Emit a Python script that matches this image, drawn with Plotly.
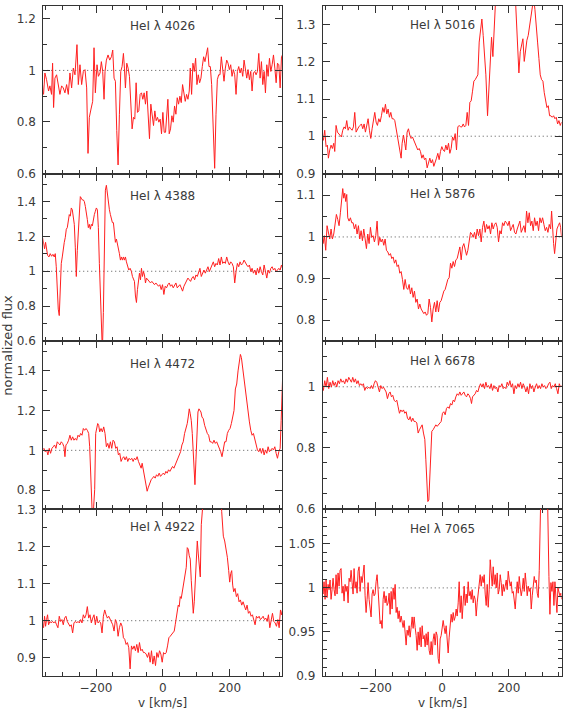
import plotly.graph_objects as go

W, H = 563, 717

# ---- data: velocity [km/s] and normalized flux ----
v_4026 = [-360, -357, -353, -348, -342, -338, -333, -330, -327, -323,
          -318, -313, -308, -303, -298, -293, -288, -283, -278, -273,
          -268, -263, -260, -257, -253, -248, -243, -238, -233, -228,
          -224, -220, -215, -210, -206, -202, -197, -193, -188, -184,
          -180, -176, -173, -169, -164, -159, -154, -150, -146, -142,
          -138, -134, -130, -126, -122, -118, -115, -112, -108, -104,
          -100, -96, -92, -88, -84, -80, -76, -72, -68, -64,
          -60, -56, -52, -48, -44, -40, -36, -32, -28, -24,
          -20, -16, -12, -8, -4, 0, 4, 8, 12, 15,
          19, 23, 27, 31, 35, 39, 43, 47, 51, 55,
          59, 63, 67, 71, 75, 79, 82, 86, 90, 94,
          98, 102, 106, 110, 114, 118, 122, 126, 130, 134,
          138, 142, 146, 150, 155, 159, 163, 167, 171, 175,
          179, 183, 187, 191, 195, 199, 203, 207, 211, 215,
          219, 223, 227, 231, 235, 239, 243, 247, 251, 255,
          259, 263, 267, 271, 275, 279, 283, 287, 291, 295,
          299, 303, 307, 311, 315, 319, 323, 327, 331, 335,
          339, 343, 347, 351, 355, 358]
f_4026 = [0.945, 0.907, 0.990, 0.964, 0.920, 0.940, 0.907, 1.028, 0.856, 0.970,
          0.983, 0.945, 0.907, 0.940, 0.932, 0.913, 0.945, 0.907, 0.990, 0.932,
          1.009, 0.983, 1.047, 1.100, 0.945, 1.022, 0.945, 0.996, 1.003, 0.932,
          0.678, 0.818, 0.850, 0.880, 1.088, 0.913, 1.022, 0.977, 0.990, 1.034,
          0.996, 0.888, 0.996, 1.040, 1.060, 1.040, 1.053, 1.079, 0.970, 0.958,
          0.767, 0.633, 0.830, 0.996, 1.015, 1.066, 1.009, 0.932, 1.028, 1.009,
          0.977, 0.869, 0.773, 0.818, 0.811, 0.952, 0.837, 0.843, 0.907, 0.913,
          0.888, 0.913, 0.869, 0.920, 0.830, 0.735, 0.869, 0.818, 0.786, 0.843,
          0.805, 0.818, 0.799, 0.811, 0.754, 0.837, 0.760, 0.760, 0.818, 0.888,
          0.754, 0.773, 0.824, 0.799, 0.862, 0.830, 0.894, 0.869, 0.900, 0.875,
          0.945, 0.907, 0.880, 0.907, 0.888, 0.920, 1.009, 0.907, 1.028, 0.996,
          1.047, 0.945, 0.983, 0.952, 0.970, 1.015, 1.053, 1.034, 1.060, 1.088,
          1.015, 1.015, 0.945, 0.805, 0.620, 0.830, 0.964, 0.983, 0.983, 1.053,
          0.996, 0.958, 1.009, 1.040, 1.028, 1.003, 1.022, 0.977, 1.003, 0.983,
          0.907, 0.996, 1.015, 0.990, 1.009, 0.977, 1.040, 0.996, 0.970, 1.003,
          0.964, 0.996, 0.920, 0.990, 0.996, 0.983, 0.996, 1.066, 0.970, 1.034,
          0.945, 0.996, 0.913, 1.022, 0.977, 1.047, 0.996, 1.022, 1.060, 1.009,
          0.952, 1.028, 1.022, 0.932, 1.053, 1.060]

v_5016 = [-360, -356, -352, -348, -344, -341, -337, -333, -329, -325,
          -322, -318, -314, -310, -306, -302, -298, -294, -290, -286,
          -282, -278, -274, -270, -266, -262, -258, -254, -250, -246,
          -242, -238, -234, -230, -226, -222, -218, -214, -210, -206,
          -202, -198, -194, -190, -186, -182, -178, -174, -170, -166,
          -162, -158, -154, -150, -146, -142, -138, -134, -130, -126,
          -123, -120, -116, -112, -109, -105, -101, -97, -93, -89,
          -85, -81, -77, -73, -69, -65, -61, -57, -53, -49,
          -45, -41, -37, -33, -29, -25, -21, -17, -13, -9,
          -5, -1, 3, 7, 11, 15, 19, 23, 27, 31,
          35, 39, 43, 47, 51, 55, 59, 63, 67, 71,
          75, 79, 83, 87, 91, 95, 99, 103, 107, 111,
          115, 119, 123, 127, 131, 136, 140, 144, 148, 152,
          156, 160, 170, 185, 205, 218, 222, 226, 230, 234,
          238, 242, 246, 250, 254, 258, 262, 266, 270, 274,
          278, 282, 286, 290, 294, 298, 302, 306, 310, 314,
          318, 322, 326, 330, 334, 338, 342, 346, 350, 354,
          358]
f_5016 = [1.003, 0.989, 1.016, 0.972, 0.976, 0.941, 0.963, 0.976, 0.967, 0.981,
          0.959, 1.029, 1.011, 1.007, 1.003, 0.998, 1.016, 1.025, 1.020, 1.042,
          1.016, 1.025, 1.020, 1.016, 1.025, 1.064, 1.011, 1.020, 1.025, 1.029,
          1.033, 1.020, 1.033, 1.011, 1.025, 1.047, 1.016, 0.994, 1.020, 1.047,
          1.064, 1.038, 1.029, 1.047, 1.038, 1.055, 1.077, 1.064, 1.086, 1.060,
          1.073, 1.051, 1.064, 1.047, 1.047, 1.042, 1.020, 0.998, 0.981, 0.963,
          0.941, 0.981, 1.003, 0.981, 0.963, 1.011, 1.020, 1.003, 0.994, 0.998,
          0.989, 0.981, 0.976, 0.963, 0.967, 0.959, 0.941, 0.950, 0.937, 0.941,
          0.915, 0.932, 0.941, 0.928, 0.937, 0.919, 0.928, 0.941, 0.954, 0.937,
          0.959, 0.972, 0.963, 0.959, 0.976, 0.963, 0.981, 0.954, 0.967, 0.998,
          0.989, 1.007, 0.963, 1.025, 1.029, 1.025, 1.025, 1.033, 1.025, 1.029,
          1.064, 1.029, 1.091, 1.095, 1.121, 1.148, 1.152, 1.161, 1.165, 1.253,
          1.280, 1.315, 1.271, 1.218, 1.165, 1.055, 1.130, 1.201, 1.266, 1.214,
          1.380, 1.450, 1.550, 1.600, 1.500, 1.400, 1.324, 1.236, 1.170, 1.227,
          1.245, 1.262, 1.201, 1.236, 1.258, 1.271, 1.297, 1.315, 1.350, 1.370,
          1.341, 1.306, 1.253, 1.209, 1.165, 1.152, 1.148, 1.117, 1.095, 1.077,
          1.082, 1.055, 1.055, 1.051, 1.055, 1.047, 1.051, 1.033, 1.042, 1.029,
          1.038]

v_4388 = [-360, -357, -354, -351, -348, -345, -341, -337, -333, -329,
          -325, -322, -319, -316, -313, -310, -307, -304, -301, -298,
          -295, -292, -289, -286, -283, -280, -277, -274, -271, -268,
          -265, -262, -259, -256, -253, -250, -247, -244, -241, -238,
          -235, -232, -229, -226, -223, -220, -217, -214, -211, -208,
          -205, -202, -199, -196, -193, -190, -187, -184, -181, -178,
          -175, -172, -169, -166, -163, -160, -157, -154, -151, -148,
          -145, -142, -139, -136, -133, -130, -127, -124, -121, -118,
          -115, -112, -109, -106, -102, -98, -94, -91, -88, -85,
          -82, -79, -76, -73, -70, -67, -64, -61, -58, -55,
          -52, -49, -45, -41, -37, -33, -29, -25, -21, -17,
          -13, -9, -5, -1, 3, 7, 11, 15, 19, 23,
          27, 31, 35, 39, 43, 47, 51, 55, 59, 63,
          67, 71, 75, 79, 83, 87, 91, 95, 99, 103,
          107, 111, 115, 119, 123, 127, 131, 135, 139, 143,
          147, 151, 155, 159, 163, 167, 171, 175, 179, 183,
          187, 191, 195, 199, 203, 207, 211, 215, 219, 223,
          227, 231, 235, 239, 243, 247, 251, 255, 259, 263,
          267, 271, 275, 279, 283, 287, 291, 295, 299, 303,
          307, 311, 315, 319, 323, 327, 331, 335, 339, 343,
          347, 351, 355, 358]
f_4388 = [1.194, 1.157, 1.129, 1.166, 1.138, 1.092, 1.082, 1.101, 1.086, 1.097,
          1.082, 1.101, 1.026, 0.877, 0.783, 0.746, 0.895, 1.045, 1.082, 1.148,
          1.166, 1.194, 1.241, 1.250, 1.297, 1.325, 1.316, 1.363, 1.353, 1.316,
          1.269, 1.138, 0.970, 1.120, 1.250, 1.363, 1.428, 1.419, 1.409, 1.409,
          1.400, 1.372, 1.316, 1.297, 1.250, 1.269, 1.241, 1.269, 1.260, 1.307,
          1.325, 1.344, 1.363, 1.353, 1.250, 1.045, 0.783, 0.596, 0.540, 0.764,
          1.288, 1.465, 1.493, 1.447, 1.381, 1.353, 1.325, 1.297, 1.279, 1.279,
          1.213, 1.166, 1.185, 1.148, 1.110, 1.101, 1.064, 1.082, 1.064, 1.082,
          1.064, 1.082, 1.054, 1.026, 1.007, 1.017, 0.998, 0.970, 0.951, 0.942,
          0.858, 0.821, 0.895, 0.942, 0.989, 0.951, 1.017, 0.970, 0.998, 0.979,
          0.933, 0.961, 0.951, 0.942, 0.933, 0.942, 0.933, 0.923, 0.933, 0.923,
          0.914, 0.923, 0.895, 0.923, 0.867, 0.914, 0.905, 0.923, 0.933, 0.914,
          0.923, 0.905, 0.923, 0.933, 0.905, 0.914, 0.923, 0.905, 0.886, 0.914,
          0.933, 0.951, 0.961, 0.951, 0.942, 0.961, 0.970, 0.951, 0.979, 0.970,
          0.989, 1.017, 0.970, 0.989, 1.007, 0.989, 1.007, 1.026, 0.998, 1.017,
          1.026, 1.054, 1.026, 1.045, 1.036, 1.073, 1.036, 1.082, 1.045, 1.054,
          1.045, 1.082, 1.054, 1.036, 1.054, 1.045, 1.026, 0.933, 0.998, 1.045,
          1.026, 1.054, 1.036, 1.045, 1.064, 1.045, 1.036, 1.026, 1.036, 0.998,
          1.017, 0.989, 1.007, 0.979, 1.017, 0.989, 1.026, 0.998, 0.979, 1.036,
          0.989, 0.961, 1.007, 0.989, 1.017, 1.026, 1.007, 1.017, 0.998, 1.007,
          1.017, 1.007, 1.036, 1.017]

v_5876 = [-360, -357, -353, -349, -345, -341, -337, -333, -329, -325,
          -321, -317, -313, -309, -305, -301, -298, -295, -292, -289,
          -286, -283, -279, -275, -271, -267, -263, -259, -255, -251,
          -247, -243, -239, -235, -231, -227, -223, -219, -215, -211,
          -207, -203, -199, -195, -191, -187, -183, -179, -175, -171,
          -167, -163, -159, -155, -151, -147, -143, -139, -135, -131,
          -127, -123, -119, -115, -111, -107, -103, -99, -95, -91,
          -87, -83, -79, -75, -71, -67, -63, -59, -55, -51,
          -47, -43, -39, -35, -31, -27, -23, -19, -15, -11,
          -7, -3, 1, 5, 9, 13, 17, 21, 25, 29,
          33, 37, 41, 45, 49, 53, 57, 61, 65, 69,
          73, 77, 81, 85, 89, 93, 97, 101, 105, 109,
          113, 117, 121, 125, 129, 133, 137, 141, 145, 149,
          153, 157, 161, 165, 169, 173, 177, 181, 185, 189,
          193, 197, 201, 205, 209, 213, 217, 221, 225, 229,
          233, 237, 241, 245, 249, 253, 257, 261, 265, 269,
          273, 277, 281, 285, 289, 293, 297, 301, 305, 309,
          313, 317, 321, 325, 328, 331, 334, 337, 340, 344,
          348, 352, 355, 358]
f_5876 = [1.019, 0.984, 1.003, 0.968, 1.027, 1.007, 0.995, 1.019, 0.995, 1.007,
          1.034, 1.054, 1.042, 1.027, 1.058, 1.085, 1.116, 1.093, 1.105, 1.085,
          1.102, 1.046, 1.038, 1.046, 1.034, 1.034, 1.019, 1.030, 1.007, 1.027,
          0.995, 1.015, 0.991, 1.019, 0.995, 0.972, 1.007, 0.984, 1.023, 0.999,
          1.003, 0.988, 1.003, 1.038, 0.980, 0.999, 0.988, 0.995, 0.980, 0.995,
          0.968, 0.964, 0.956, 0.960, 0.948, 0.952, 0.937, 0.945, 0.929, 0.933,
          0.913, 0.917, 0.898, 0.874, 0.898, 0.878, 0.874, 0.886, 0.863, 0.878,
          0.855, 0.870, 0.843, 0.851, 0.827, 0.839, 0.827, 0.820, 0.816, 0.820,
          0.812, 0.816, 0.851, 0.831, 0.796, 0.827, 0.843, 0.820, 0.847, 0.820,
          0.843, 0.847, 0.859, 0.870, 0.874, 0.886, 0.898, 0.902, 0.937, 0.925,
          0.941, 0.929, 0.945, 0.948, 0.964, 0.976, 0.945, 0.976, 0.984, 0.972,
          0.956, 0.968, 0.991, 1.011, 1.007, 0.999, 1.011, 0.995, 1.019, 1.003,
          1.019, 0.988, 1.023, 1.038, 1.011, 1.030, 1.019, 1.027, 1.007, 1.034,
          1.019, 1.030, 1.034, 1.023, 0.988, 1.015, 1.007, 1.034, 1.027, 1.038,
          1.034, 1.027, 1.038, 1.015, 1.023, 1.030, 1.011, 1.007, 1.019, 1.027,
          1.038, 1.011, 1.019, 1.027, 1.011, 1.062, 1.034, 1.058, 1.027, 1.038,
          1.015, 1.046, 1.027, 1.038, 1.015, 1.046, 1.034, 1.046, 1.030, 1.015,
          1.023, 1.011, 1.030, 1.019, 1.062, 1.011, 0.984, 0.960, 0.991, 1.019,
          1.027, 1.034, 1.023, 0.999]

v_4472 = [-360, -356, -352, -348, -344, -340, -336, -332, -328, -324,
          -320, -316, -312, -308, -304, -300, -296, -293, -290, -286,
          -282, -278, -274, -270, -266, -262, -258, -254, -250, -246,
          -242, -238, -234, -230, -226, -222, -219, -216, -213, -210,
          -207, -204, -201, -198, -195, -192, -189, -185, -181, -177,
          -173, -169, -165, -161, -157, -153, -149, -145, -141, -137,
          -133, -129, -125, -121, -117, -113, -109, -105, -101, -97,
          -93, -89, -85, -81, -77, -73, -69, -65, -62, -59,
          -56, -53, -50, -47, -44, -41, -38, -35, -31, -27,
          -23, -19, -15, -11, -7, -3, 1, 5, 9, 13,
          17, 21, 25, 29, 33, 37, 41, 45, 49, 53,
          57, 61, 65, 69, 73, 76, 79, 82, 85, 88,
          91, 94, 96, 99, 102, 105, 108, 111, 114, 117,
          121, 125, 129, 133, 137, 141, 145, 149, 153, 157,
          161, 165, 169, 173, 177, 181, 185, 189, 193, 197,
          201, 205, 209, 213, 217, 221, 225, 229, 232, 235,
          239, 243, 247, 251, 255, 259, 263, 267, 271, 275,
          279, 283, 287, 291, 295, 299, 303, 307, 311, 315,
          319, 323, 327, 331, 335, 339, 343, 347, 351, 354,
          356, 358]
f_4472 = [1.002, 1.010, 0.993, 1.002, 0.977, 1.010, 0.985, 1.010, 1.018, 1.027,
          1.010, 1.043, 1.035, 1.027, 1.043, 1.035, 1.018, 0.968, 1.027, 1.035,
          1.051, 1.076, 1.051, 1.068, 1.051, 1.060, 1.051, 1.076, 1.068, 1.085,
          1.076, 1.110, 1.101, 1.110, 1.101, 1.085, 1.018, 0.836, 0.653, 0.620,
          0.719, 0.802, 1.085, 1.110, 1.135, 1.126, 1.093, 1.110, 1.093, 1.118,
          1.085, 1.018, 1.035, 1.010, 1.043, 1.010, 1.051, 1.043, 1.010, 1.018,
          0.977, 0.985, 0.944, 0.960, 0.968, 0.952, 0.968, 0.944, 0.960, 0.952,
          0.960, 0.944, 0.960, 0.952, 0.968, 0.944, 0.927, 0.910, 0.935, 0.902,
          0.877, 0.844, 0.811, 0.794, 0.811, 0.827, 0.836, 0.852, 0.860, 0.869,
          0.860, 0.877, 0.869, 0.885, 0.869, 0.877, 0.885, 0.877, 0.894, 0.885,
          0.902, 0.894, 0.910, 0.919, 0.910, 0.927, 0.944, 0.952, 0.977, 0.993,
          1.027, 1.043, 1.085, 1.110, 1.135, 1.168, 1.209, 1.184, 1.151, 1.085,
          1.002, 0.885, 0.827, 0.952, 1.118, 1.193, 1.209, 1.201, 1.193, 1.168,
          1.159, 1.126, 1.101, 1.085, 1.076, 1.043, 1.043, 1.035, 1.051, 1.035,
          1.043, 1.027, 1.010, 0.993, 0.968, 1.010, 1.043, 1.043, 1.085, 1.101,
          1.110, 1.135, 1.168, 1.201, 1.309, 1.334, 1.400, 1.458, 1.483, 1.467,
          1.409, 1.342, 1.284, 1.243, 1.176, 1.143, 1.101, 1.076, 1.085, 1.051,
          1.027, 1.002, 0.993, 1.010, 0.985, 1.010, 0.977, 1.002, 0.985, 1.018,
          0.993, 1.002, 1.010, 1.002, 1.018, 0.985, 0.960, 0.993, 1.010, 1.151,
          1.251, 1.350]

v_6678 = [-360, -356, -352, -348, -344, -340, -336, -332, -328, -324,
          -320, -316, -312, -308, -304, -300, -296, -292, -288, -284,
          -280, -276, -272, -268, -264, -260, -256, -252, -248, -244,
          -240, -236, -232, -228, -224, -220, -216, -212, -208, -204,
          -200, -196, -192, -188, -184, -180, -176, -172, -168, -164,
          -160, -156, -152, -148, -144, -140, -136, -132, -128, -124,
          -120, -116, -112, -108, -104, -100, -96, -92, -88, -84,
          -80, -76, -72, -68, -64, -60, -56, -52, -49, -46,
          -43, -40, -37, -34, -31, -27, -23, -19, -15, -11,
          -7, -3, 1, 5, 9, 13, 17, 21, 25, 29,
          33, 37, 41, 45, 49, 53, 57, 61, 65, 69,
          73, 77, 81, 85, 88, 91, 95, 99, 103, 107,
          111, 115, 119, 123, 127, 131, 135, 139, 143, 147,
          151, 155, 159, 163, 167, 171, 175, 179, 183, 187,
          191, 195, 199, 203, 207, 211, 215, 219, 223, 227,
          231, 235, 239, 243, 247, 251, 255, 259, 263, 267,
          271, 275, 279, 283, 287, 291, 295, 299, 303, 307,
          311, 315, 319, 323, 327, 331, 335, 339, 343, 347,
          351, 355, 358]
f_6678 = [1.010, 0.988, 1.020, 0.999, 1.031, 0.994, 1.015, 0.999, 1.020, 1.004,
          1.015, 0.999, 1.020, 1.010, 1.026, 1.015, 1.020, 1.010, 1.026, 1.015,
          1.031, 1.020, 1.015, 1.031, 1.015, 1.026, 1.010, 1.020, 1.004, 1.010,
          1.004, 1.010, 0.988, 0.999, 0.994, 0.999, 0.994, 1.004, 0.994, 1.010,
          1.020, 1.015, 0.999, 0.983, 1.004, 0.994, 0.999, 0.988, 0.983, 0.961,
          0.977, 0.983, 0.967, 0.972, 0.956, 0.951, 0.956, 0.934, 0.913, 0.924,
          0.918, 0.924, 0.913, 0.918, 0.897, 0.891, 0.902, 0.886, 0.897, 0.886,
          0.886, 0.881, 0.848, 0.859, 0.870, 0.875, 0.848, 0.827, 0.762, 0.687,
          0.623, 0.628, 0.709, 0.827, 0.854, 0.859, 0.865, 0.875, 0.870, 0.875,
          0.881, 0.886, 0.913, 0.918, 0.908, 0.929, 0.934, 0.929, 0.945, 0.940,
          0.956, 0.951, 0.967, 0.977, 0.972, 0.983, 0.972, 0.977, 0.983, 0.972,
          0.967, 0.977, 0.972, 0.961, 0.945, 0.967, 0.972, 0.977, 0.988, 0.983,
          0.999, 1.010, 0.999, 1.010, 0.994, 1.015, 0.999, 1.004, 0.994, 1.010,
          0.988, 1.004, 0.994, 0.999, 0.983, 1.004, 0.999, 1.010, 0.994, 0.999,
          0.994, 1.015, 1.004, 1.020, 0.999, 1.010, 0.977, 1.004, 0.994, 1.010,
          0.999, 1.015, 0.994, 1.010, 0.999, 0.983, 0.999, 0.977, 1.010, 0.994,
          1.004, 0.983, 0.999, 1.010, 0.994, 1.004, 0.994, 1.010, 0.999, 1.004,
          0.994, 0.999, 1.010, 1.015, 0.994, 1.004, 0.999, 1.010, 0.994, 0.977,
          1.010, 0.999, 1.004]

v_4922 = [-360, -357, -354, -351, -348, -345, -342, -338, -334, -330,
          -326, -322, -318, -314, -310, -306, -302, -298, -294, -290,
          -286, -282, -278, -274, -270, -266, -262, -258, -254, -250,
          -246, -242, -238, -234, -230, -226, -222, -218, -214, -210,
          -206, -202, -198, -194, -190, -186, -182, -178, -174, -170,
          -166, -162, -158, -154, -150, -146, -142, -138, -134, -130,
          -126, -122, -118, -114, -110, -106, -102, -98, -94, -90,
          -86, -82, -78, -74, -70, -66, -62, -58, -54, -50,
          -46, -42, -38, -34, -30, -26, -22, -18, -14, -10,
          -6, -2, 2, 6, 10, 14, 18, 22, 26, 30,
          34, 37, 40, 43, 46, 49, 52, 55, 58, 61,
          64, 67, 70, 73, 76, 79, 82, 85, 88, 91,
          94, 97, 100, 103, 106, 109, 112, 115, 118, 122,
          130, 140, 155, 170, 176, 178, 181, 185, 189, 193,
          197, 200, 203, 206, 209, 212, 216, 220, 224, 228,
          232, 236, 240, 244, 248, 252, 256, 260, 264, 268,
          272, 276, 280, 284, 288, 292, 296, 300, 304, 308,
          312, 316, 320, 324, 328, 332, 336, 340, 344, 348,
          352, 355, 358]
f_4922 = [0.998, 0.981, 1.012, 0.985, 1.003, 1.016, 0.989, 0.998, 0.994, 0.998,
          0.994, 0.998, 0.989, 0.981, 1.012, 0.998, 1.003, 0.989, 1.007, 1.012,
          0.998, 0.989, 0.985, 0.989, 0.967, 0.994, 0.998, 0.994, 0.998, 0.994,
          1.003, 0.994, 1.016, 1.007, 1.016, 1.038, 1.007, 1.016, 0.994, 1.007,
          1.016, 0.989, 1.012, 0.994, 0.998, 0.994, 0.967, 1.012, 1.029, 1.016,
          1.007, 1.012, 1.003, 0.998, 0.989, 0.972, 1.003, 0.994, 0.958, 0.981,
          0.994, 0.985, 0.954, 0.950, 0.936, 0.941, 0.927, 0.870, 0.932, 0.923,
          0.932, 0.919, 0.936, 0.914, 0.941, 0.919, 0.923, 0.914, 0.914, 0.910,
          0.901, 0.914, 0.888, 0.919, 0.883, 0.905, 0.879, 0.914, 0.901, 0.919,
          0.910, 0.888, 0.914, 0.910, 0.914, 0.932, 0.954, 0.958, 0.963, 0.967,
          0.972, 0.989, 1.012, 1.029, 1.042, 1.038, 1.065, 1.060, 1.078, 1.087,
          1.104, 1.135, 1.144, 1.197, 1.193, 1.175, 1.166, 1.109, 1.056, 1.020,
          1.051, 1.109, 1.171, 1.215, 1.180, 1.140, 1.118, 1.259, 1.312, 1.350,
          1.450, 1.550, 1.600, 1.450, 1.295, 1.268, 1.228, 1.215, 1.197, 1.171,
          1.135, 1.104, 1.127, 1.135, 1.096, 1.078, 1.087, 1.065, 1.073, 1.051,
          1.056, 1.042, 1.051, 1.038, 1.029, 1.042, 1.020, 1.025, 1.012, 1.016,
          1.003, 0.989, 1.012, 1.007, 1.012, 1.003, 1.007, 1.012, 1.003, 1.007,
          0.998, 1.016, 0.981, 1.007, 1.020, 0.998, 0.994, 0.985, 1.003, 0.981,
          1.029, 1.016, 1.029]

v_7065 = [-360, -357, -354, -351, -348, -345, -342, -339, -336, -333,
          -330, -327, -324, -321, -318, -315, -312, -309, -306, -303,
          -300, -297, -294, -291, -288, -285, -282, -279, -276, -273,
          -270, -267, -264, -261, -258, -255, -252, -249, -246, -243,
          -240, -237, -234, -231, -228, -225, -222, -219, -216, -213,
          -210, -207, -204, -201, -198, -195, -192, -189, -186, -183,
          -180, -177, -174, -171, -168, -165, -162, -159, -156, -153,
          -150, -147, -144, -141, -138, -135, -132, -129, -126, -123,
          -120, -117, -114, -111, -108, -105, -102, -99, -96, -93,
          -90, -87, -84, -81, -78, -75, -72, -69, -66, -63,
          -60, -57, -54, -51, -48, -45, -42, -39, -36, -33,
          -30, -27, -24, -21, -18, -15, -12, -9, -6, -3,
          0, 3, 6, 9, 12, 15, 18, 21, 24, 27,
          30, 33, 36, 39, 42, 45, 48, 51, 54, 57,
          60, 63, 66, 69, 72, 75, 78, 81, 84, 87,
          90, 93, 96, 99, 102, 105, 108, 111, 114, 117,
          120, 123, 126, 129, 132, 135, 138, 141, 144, 147,
          150, 153, 156, 159, 162, 165, 168, 171, 174, 177,
          180, 183, 186, 189, 192, 195, 198, 201, 204, 207,
          210, 213, 216, 219, 222, 225, 228, 231, 234, 237,
          240, 243, 246, 249, 252, 255, 258, 261, 264, 267,
          270, 273, 276, 279, 282, 285, 288, 291, 294, 297,
          300, 303, 306, 309, 312, 316, 320, 323, 326, 329,
          332, 335, 338, 341, 344, 347, 350, 353, 356, 358]
f_7065 = [1.000, 0.993, 1.007, 0.987, 1.009, 0.989, 1.004, 0.998, 1.009, 0.987,
          0.998, 1.011, 0.998, 0.991, 1.015, 0.993, 1.017, 1.002, 1.020, 1.022,
          0.994, 1.002, 0.985, 1.004, 0.996, 1.002, 0.983, 1.011, 1.007, 1.020,
          1.006, 0.993, 1.022, 1.000, 1.007, 0.994, 1.019, 1.024, 0.996, 1.013,
          1.006, 1.019, 1.026, 0.991, 0.972, 0.987, 1.006, 0.987, 0.972, 0.967,
          0.993, 0.998, 0.991, 0.993, 1.007, 1.015, 0.998, 0.972, 0.959, 0.963,
          0.954, 0.987, 0.996, 0.983, 0.991, 0.980, 0.983, 0.994, 0.970, 0.996,
          0.976, 1.000, 0.987, 1.004, 0.972, 0.978, 0.965, 0.974, 0.961, 0.968,
          0.959, 0.955, 0.963, 0.950, 0.935, 0.952, 0.946, 0.957, 0.944, 0.955,
          0.967, 0.954, 0.967, 0.955, 0.946, 0.929, 0.950, 0.935, 0.955, 0.933,
          0.957, 0.942, 0.946, 0.933, 0.948, 0.935, 0.950, 0.929, 0.924, 0.939,
          0.924, 0.941, 0.948, 0.935, 0.950, 0.946, 0.920, 0.914, 0.942, 0.946,
          0.959, 0.963, 0.955, 0.948, 0.957, 0.939, 0.926, 0.944, 0.961, 0.970,
          0.961, 0.972, 0.963, 0.967, 0.976, 0.968, 0.983, 1.007, 0.972, 0.991,
          0.965, 0.987, 1.002, 0.980, 0.993, 0.983, 1.007, 0.991, 0.996, 0.987,
          0.998, 0.983, 0.991, 0.987, 0.968, 0.983, 0.994, 1.006, 1.015, 1.002,
          1.013, 1.006, 1.015, 0.993, 0.980, 1.004, 0.978, 0.998, 1.032, 1.017,
          1.002, 1.024, 1.004, 1.015, 1.000, 1.017, 0.993, 0.998, 1.015, 1.006,
          0.991, 1.004, 0.996, 1.002, 1.009, 0.998, 1.019, 1.009, 1.002, 1.007,
          0.994, 0.996, 0.980, 0.976, 0.993, 1.007, 0.994, 1.013, 1.000, 0.991,
          0.998, 1.011, 0.996, 1.017, 1.004, 0.991, 1.002, 0.996, 1.000, 0.976,
          0.991, 1.004, 1.013, 1.006, 1.009, 0.994, 0.989, 1.020, 1.100, 1.130,
          1.120, 1.100, 1.140, 1.120, 1.110, 1.100, 1.013, 0.970, 1.006, 0.996,
          1.007, 0.980, 1.007, 0.985, 0.972, 1.000, 0.996, 0.991, 0.994, 0.987]

# line label, velocity, flux, y range, major / minor y tick step
panels = [
    ("4026", v_4026, f_4026, [0.5995, 1.25], 0.2, 0.1),
    ("5016", v_5016, f_5016, [0.8995, 1.35], 0.1, 0.05),
    ("4388", v_4388, f_4388, [0.5995, 1.56], 0.2, 0.1),
    ("5876", v_5876, f_5876, [0.75, 1.152], 0.1, 0.05),
    ("4472", v_4472, f_4472, [0.706, 1.55], 0.2, 0.1),
    ("6678", v_6678, f_6678, [0.5995, 1.15], 0.2, 0.05),
    ("4922", v_4922, f_4922, [0.85, 1.302], 0.1, 0.05),
    ("7065", v_7065, f_7065, [0.8995, 1.09], 0.05, 0.01),
]

# panel frames in pixels
col_px = [(43.3, 283.0), (323.3, 562.6)]
row_px = [(0.0, 170.7), (170.7, 341.3), (341.3, 512.0), (512.0, 682.7)]
title_off = [20, 19, 23, 21, 23.5, 20, 19, 20.5]

FONT = "DejaVu Sans, Liberation Sans, Arial, sans-serif"
AX = "#333333"
TXT = "#3a3a3a"

fig = go.Figure()
axes = {}
shapes = []
annots = []

for i, (name, v, f, yr, dt, mdt) in enumerate(panels):
    row, col = divmod(i, 2)
    s = "" if i == 0 else str(i + 1)
    x0, x1 = col_px[col]
    top, bot = row_px[row]

    fig.add_trace(go.Scatter(
        x=v, y=f, mode="lines",
        line=dict(color="#ff1f1f", width=1),
        xaxis="x" + s, yaxis="y" + s,
        showlegend=False, hoverinfo="skip",
    ))

    axes["xaxis" + s] = dict(
        domain=[x0 / W, x1 / W], anchor="y" + s,
        range=[-358, 358], tick0=0, dtick=200,
        showline=True, linecolor=AX, linewidth=1, mirror="ticks",
        ticks="inside", ticklen=7, tickwidth=1, tickcolor=AX,
        minor=dict(dtick=50, tick0=0, ticks="inside", ticklen=4, tickcolor=AX),
        showgrid=False, zeroline=False,
        showticklabels=(row == 3), ticklabelstandoff=0,
        tickfont=dict(family=FONT, size=12, color=TXT),
        fixedrange=True,
    )
    axes["yaxis" + s] = dict(
        domain=[1 - bot / H, 1 - top / H], anchor="x" + s,
        range=yr, tick0=0, dtick=dt,
        showline=True, linecolor=AX, linewidth=1, mirror="ticks",
        ticks="inside", ticklen=7, tickwidth=1, tickcolor=AX,
        minor=dict(dtick=mdt, tick0=0, ticks="inside", ticklen=4, tickcolor=AX),
        showgrid=False, zeroline=False, ticklabelstandoff=4,
        tickfont=dict(family=FONT, size=12, color=TXT),
        fixedrange=True,
    )

    # dotted continuum level
    shapes.append(dict(
        type="line", xref="x" + s + " domain", yref="y" + s,
        x0=0, x1=1, y0=1, y1=1, layer="below",
        line=dict(color="#555555", width=1, dash="1px,3px"),
    ))

    annots.append(dict(
        text="HeI λ " + name, xref="paper", yref="paper",
        x=(x0 + x1) / 2 / W, y=1 - (top + title_off[i]) / H,
        xanchor="center", yanchor="middle", showarrow=False,
        font=dict(family=FONT, size=12, color=TXT),
    ))

for col in range(2):
    x0, x1 = col_px[col]
    annots.append(dict(
        text="v [km/s]", xref="paper", yref="paper",
        x=(x0 + x1) / 2 / W, y=1 - 710 / H,
        xanchor="center", yanchor="middle", showarrow=False,
        font=dict(family=FONT, size=12, color=TXT),
    ))

annots.append(dict(
    text="normalized flux", xref="paper", yref="paper",
    x=8 / W, y=1 - 345 / H, textangle=-90,
    xanchor="center", yanchor="middle", showarrow=False,
    font=dict(family=FONT, size=13, color=TXT),
))

fig.update_layout(
    width=W, height=H,
    margin=dict(l=0, r=0, t=0, b=0),
    paper_bgcolor="white", plot_bgcolor="white",
    shapes=shapes, annotations=annots,
    **axes,
)

# page body has a default 8px margin; drop it so the figure sits at (0, 0)
fig.write_html(
    "out.html",
    config={"displayModeBar": False},
    post_script="document.body.style.margin='0';",
)
